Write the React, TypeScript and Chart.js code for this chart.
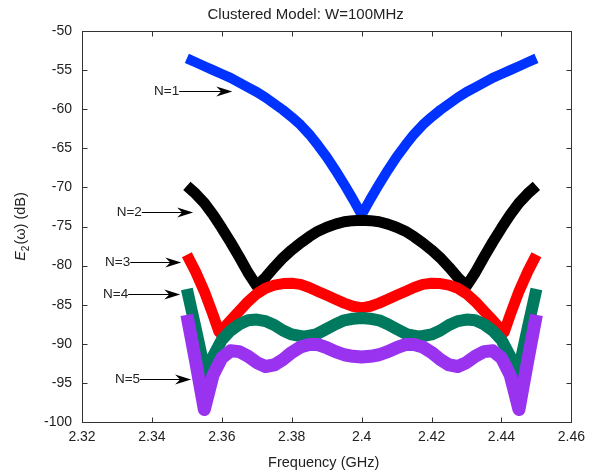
import React, { useEffect, useRef } from "react";
import { Chart, registerables } from "chart.js";
Chart.register(...registerables);

const xTickValues = [2.32, 2.34, 2.36, 2.38, 2.4, 2.42, 2.44, 2.46];
const yTickValues = [-100, -95, -90, -85, -80, -75, -70, -65, -60, -55, -50];

const titleText = "Clustered Model: W=100MHz";
const xAxisText = "Frequency (GHz)";

const freqGrid = [2.35, 2.3525, 2.355, 2.3575, 2.36, 2.3625, 2.365, 2.3675, 2.37, 2.3725, 2.375, 2.3775, 2.38, 2.3825, 2.385, 2.3875, 2.39, 2.3925, 2.395, 2.3975, 2.4, 2.4025, 2.405, 2.4075, 2.41, 2.4125, 2.415, 2.4175, 2.42, 2.4225, 2.425, 2.4275, 2.43, 2.4325, 2.435, 2.4375, 2.44, 2.4425, 2.445, 2.4475, 2.45];

const valsN1 = [-53.5, -54.0, -54.5, -55.0, -55.5, -56.0, -56.6, -57.2, -57.8, -58.5, -59.3, -60.1, -61.0, -62.0, -63.2, -64.6, -66.1, -67.8, -69.6, -71.5, -73.5, -71.5, -69.6, -67.8, -66.1, -64.6, -63.2, -62.0, -61.0, -60.1, -59.3, -58.5, -57.8, -57.2, -56.6, -56.0, -55.5, -55.0, -54.5, -54.0, -53.5];

const valsN2 = [-69.8, -70.8, -72.0, -73.5, -75.2, -77.0, -78.9, -80.9, -82.6, -81.5, -80.2, -79.0, -78.0, -77.1, -76.3, -75.6, -75.1, -74.7, -74.4, -74.25, -74.2, -74.25, -74.4, -74.7, -75.1, -75.6, -76.3, -77.1, -78.0, -79.0, -80.2, -81.5, -82.6, -80.9, -78.9, -77.0, -75.2, -73.5, -72.0, -70.8, -69.8];

const freqN3 = [2.35, 2.3525, 2.355, 2.3575, 2.3592, 2.3605, 2.3625, 2.365, 2.3675, 2.37, 2.3725, 2.375, 2.3775, 2.38, 2.3825, 2.385, 2.3875, 2.39, 2.3925, 2.395, 2.3975, 2.4, 2.4025, 2.405, 2.4075, 2.41, 2.4125, 2.415, 2.4175, 2.42, 2.4225, 2.425, 2.4275, 2.43, 2.4325, 2.435, 2.4375, 2.4395, 2.4408, 2.4425, 2.445, 2.4475, 2.45];
const valsN3 = [-78.6, -80.8, -83.3, -86.3, -88.5, -88.0, -87.0, -85.8, -84.6, -83.6, -82.9, -82.5, -82.3, -82.25, -82.4, -82.8, -83.3, -83.8, -84.3, -84.8, -85.2, -85.4, -85.2, -84.8, -84.3, -83.8, -83.3, -82.8, -82.4, -82.25, -82.3, -82.5, -82.9, -83.6, -84.6, -85.8, -87.0, -88.0, -88.5, -86.3, -83.3, -80.8, -78.6];

const freqN4 = [2.35, 2.3525, 2.3555, 2.3575, 2.36, 2.3625, 2.365, 2.3675, 2.37, 2.3725, 2.375, 2.3775, 2.38, 2.3835, 2.387, 2.39, 2.3925, 2.395, 2.3975, 2.4, 2.4025, 2.405, 2.4075, 2.41, 2.413, 2.4165, 2.42, 2.4225, 2.425, 2.4275, 2.43, 2.4325, 2.435, 2.4375, 2.44, 2.4425, 2.4445, 2.4475, 2.45];
const valsN4 = [-83.0, -88.0, -94.2, -91.6, -89.5, -88.3, -87.5, -87.0, -86.9, -87.1, -87.6, -88.3, -88.8, -89.1, -88.8, -88.1, -87.5, -87.0, -86.8, -86.7, -86.8, -87.0, -87.5, -88.1, -88.8, -89.1, -88.8, -88.3, -87.6, -87.1, -86.9, -87.0, -87.5, -88.3, -89.5, -91.6, -94.2, -88.0, -83.0];

const valsN5 = [-86.3, -92.2, -98.4, -94.0, -91.8, -90.9, -91.0, -91.6, -92.4, -92.9, -92.7, -92.0, -91.1, -90.4, -90.1, -90.1, -90.5, -91.0, -91.4, -91.6, -91.7, -91.6, -91.4, -91.0, -90.5, -90.1, -90.1, -90.4, -91.1, -92.0, -92.7, -92.9, -92.4, -91.6, -91.0, -90.9, -91.8, -94.0, -98.4, -92.2, -86.3];

const seriesNames = ["N=1", "N=2", "N=3", "N=4", "N=5"];
const seriesColors = ["#0033ff", "#000000", "#ff0000", "#007a5e", "#9a33f0"];
const seriesWidths = [10, 11, 11, 12, 13];

const annLabels = ["N=1", "N=2", "N=3", "N=4", "N=5"];
const annTailX = [2.3478, 2.3371, 2.3338, 2.3332, 2.3366];
const annTipX = [2.363, 2.3518, 2.3484, 2.3481, 2.3512];
const annY = [-57.7, -73.1, -79.5, -83.6, -94.5];

const FONT = '"Liberation Sans", Arial, Helvetica, sans-serif';

const decorPlugin = {
  id: "decor",
  afterDatasetsDraw(chart: any) {
    const ctx = chart.ctx;
    const xs = chart.scales.x;
    const ys = chart.scales.y;
    ctx.save();
    ctx.strokeStyle = "#000";
    ctx.fillStyle = "#000";
    ctx.lineWidth = 1;
    for (let i = 0; i < annLabels.length; i++) {
      const y = Math.round(ys.getPixelForValue(annY[i])) + 0.5;
      const x0 = xs.getPixelForValue(annTailX[i]);
      const x1 = xs.getPixelForValue(annTipX[i]);
      ctx.beginPath();
      ctx.moveTo(x0, y);
      ctx.lineTo(x1 - 10, y);
      ctx.stroke();
      ctx.beginPath();
      ctx.moveTo(x1, y);
      ctx.lineTo(x1 - 16, y - 5);
      ctx.lineTo(x1 - 11, y);
      ctx.lineTo(x1 - 16, y + 5);
      ctx.closePath();
      ctx.fill();
      ctx.font = "13.5px " + FONT;
      ctx.fillStyle = "#222";
      ctx.textAlign = "right";
      ctx.textBaseline = "middle";
      ctx.fillText(annLabels[i], x0, y);
      ctx.fillStyle = "#000";
    }
    ctx.restore();
  },
  afterDraw(chart: any) {
    const ctx = chart.ctx;
    const a = chart.chartArea;
    const xs = chart.scales.x;
    const ys = chart.scales.y;
    ctx.save();
    ctx.strokeStyle = "#333";
    ctx.lineWidth = 1;
    const L = Math.round(a.left) + 0.5;
    const R = Math.round(a.right) + 0.5;
    const T = Math.round(a.top) + 0.5;
    const B = Math.round(a.bottom) + 0.5;
    ctx.strokeRect(L, T, R - L, B - T);
    ctx.beginPath();
    for (const v of xTickValues) {
      const px = Math.round(xs.getPixelForValue(v)) + 0.5;
      ctx.moveTo(px, B);
      ctx.lineTo(px, B - 5);
      ctx.moveTo(px, T);
      ctx.lineTo(px, T + 5);
    }
    for (const v of yTickValues) {
      const py = Math.round(ys.getPixelForValue(v)) + 0.5;
      ctx.moveTo(L, py);
      ctx.lineTo(L + 5, py);
      ctx.moveTo(R, py);
      ctx.lineTo(R - 5, py);
    }
    ctx.stroke();

    ctx.fillStyle = "#222";
    ctx.textAlign = "center";
    ctx.textBaseline = "middle";
    ctx.font = "15px " + FONT;
    ctx.fillText(titleText, a.left + (a.right - a.left) * 0.457, 15);
    ctx.font = "14.5px " + FONT;
    ctx.fillText(xAxisText, (a.left + a.right) / 2 - 3, 463);

    // y-axis label: E_2(ω) (dB)
    ctx.translate(25, (a.top + a.bottom) / 2);
    ctx.rotate(-Math.PI / 2);
    ctx.textAlign = "left";
    ctx.textBaseline = "alphabetic";
    const fE = "italic 14.5px " + FONT;
    const fS = "10px " + FONT;
    const fR = "14.5px " + FONT;
    ctx.font = fE;
    const wE = ctx.measureText("E").width;
    ctx.font = fS;
    const wS = ctx.measureText("2").width;
    ctx.font = fR;
    const rest = "(\u03c9) (dB)";
    const wR = ctx.measureText(rest).width;
    let x = -(wE + wS + wR + 1) / 2;
    ctx.font = fE;
    ctx.fillText("E", x, 0);
    x += wE;
    ctx.font = fS;
    ctx.fillText("2", x, 4);
    x += wS + 1;
    ctx.font = fR;
    ctx.fillText(rest, x, 0);
    ctx.restore();
  },
};

export default function App() {
  const ref = useRef<HTMLCanvasElement | null>(null);
  useEffect(() => {
    if (!ref.current) return;
    const xsArr = [freqGrid, freqGrid, freqN3, freqN4, freqGrid];
    const ysArr = [valsN1, valsN2, valsN3, valsN4, valsN5];
    const datasets = seriesNames.map((name, i) => ({
      label: name,
      data: xsArr[i].map((f, j) => ({ x: f, y: ysArr[i][j] })),
      borderColor: seriesColors[i],
      backgroundColor: seriesColors[i],
      borderWidth: seriesWidths[i],
      borderJoinStyle: "round" as const,
      borderCapStyle: "butt" as const,
      pointRadius: 0,
      tension: 0,
      fill: false,
      order: 5 - i,
    }));
    const chart = new Chart(ref.current, {
      type: "line",
      data: { datasets },
      plugins: [decorPlugin],
      options: {
        animation: false,
        responsive: false,
        maintainAspectRatio: false,
        layout: { padding: { left: 0, right: 13, top: 31, bottom: 0 } },
        plugins: { legend: { display: false }, tooltip: { enabled: false }, title: { display: false } },
        scales: {
          x: {
            type: "linear",
            min: 2.32,
            max: 2.46,
            afterBuildTicks: (s: any) => {
              s.ticks = xTickValues.map((v) => ({ value: v }));
            },
            afterFit: (s: any) => {
              s.height = 54;
            },
            grid: { display: false, drawTicks: false },
            border: { display: false },
            ticks: {
              autoSkip: false,
              maxRotation: 0,
              padding: 7,
              color: "#222",
              font: { family: FONT, size: 14 },
              callback: (v: any) => String(Number(Number(v).toFixed(2))),
            },
          },
          y: {
            type: "linear",
            min: -100,
            max: -50,
            afterBuildTicks: (s: any) => {
              s.ticks = yTickValues.map((v) => ({ value: v }));
            },
            afterFit: (s: any) => {
              s.width = 82;
            },
            grid: { display: false, drawTicks: false },
            border: { display: false },
            ticks: {
              autoSkip: false,
              padding: 10,
              color: "#222",
              font: { family: FONT, size: 14 },
              callback: (v: any) => String(v),
            },
          },
        },
      },
    });
    return () => chart.destroy();
  }, []);
  return (
    <div style={{ position: "fixed", left: 0, top: 0, width: 592, height: 476, background: "#fff" }}>
      <canvas ref={ref} width={592} height={476} style={{ display: "block", width: 592, height: 476 }} />
    </div>
  );
}
